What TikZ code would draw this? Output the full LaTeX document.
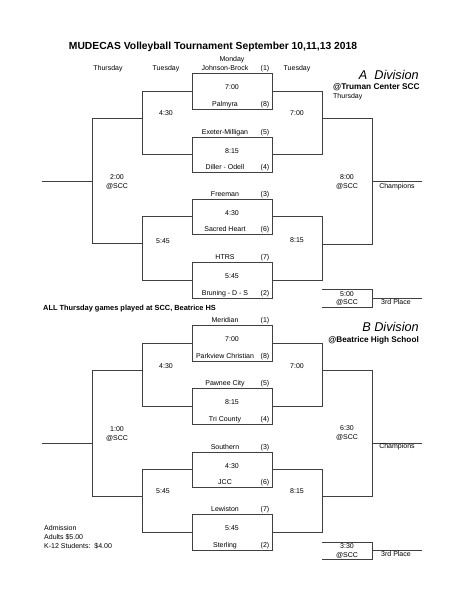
\documentclass[tikz,border=0pt]{standalone}
\usepackage{fontspec}
\setmainfont{Liberation Sans}
\usetikzlibrary{calc}
\tikzset{
  ln/.style={draw=black!75, line width=0.8pt},
  txt/.style={font=\fontsize{7}{8}\selectfont, inner sep=0pt, text height=5pt, text depth=1.4pt},
  divi/.style={font=\itshape\fontsize{12.7}{14}\selectfont, inner sep=0pt, anchor=east},
}
\newcommand\gamebox[8]{%
  \coordinate (#8tl) at (192,#1);
  \coordinate (#8tr) at (272,#1);
  \coordinate (#8bl) at (192,#2);
  \coordinate (#8br) at (272,#2);
  \coordinate (#8l) at (192,{(#1+#2)/2});
  \coordinate (#8r) at (272,{(#1+#2)/2});
  \draw[ln] (#8tl) -- (#8tr) -- (#8br) -- (#8bl) -- cycle;
  \node[txt] (#8a) at (225,{#1-4}) {#3};
  \node[txt] (#8as) at (265,{#1-4}) {#4};
  \node[txt] (#8b) at (225,{#2-4}) {#5};
  \node[txt] (#8bs) at (265,{#2-4}) {#6};
  \node[txt] (#8t) at (232,{(#1+#2)/2-3}) {#7};
}
\begin{document}
\begin{tikzpicture}[x=1pt,y=-1pt]
\useasboundingbox[fill=white] (0,0) rectangle (464,600);

% header
\node[font=\bfseries\fontsize{10.3}{12}\selectfont, inner sep=0pt] (title) at (213,47) {MUDECAS Volleyball Tournament September 10,11,13 2018};
\node[txt] (mon) at (232,60) {Monday};
\node[txt] (thuL) at (108,69) {Thursday};
\node[txt] (tueL) at (166,69) {Tuesday};
\node[txt] (tueR) at (297,69) {Tuesday};

% ---------- A Division ----------
\node[divi] (adiv) at (419,75) {A\hspace{3.5pt} Division};
\node[font=\bfseries\fontsize{8.3}{9}\selectfont, inner sep=0pt, anchor=west] (atru) at (333,87) {@Truman Center SCC};
\node[txt, anchor=west] (athu) at (333,97) {Thursday};

\gamebox{73}{109}{Johnson-Brock}{(1)}{Palmyra}{(8)}{7:00}{A1}
\gamebox{137}{172}{Exeter-Milligan}{(5)}{Diller - Odell}{(4)}{8:15}{A2}
\gamebox{199}{234}{Freeman}{(3)}{Sacred Heart}{(6)}{4:30}{A3}
\gamebox{262}{298}{HTRS}{(7)}{Bruning - D - S}{(2)}{5:45}{A4}

% second round left
\draw[ln] (A1l) -- ++(-50,0) |- (A2l);
\draw[ln] (A3l) -- ++(-50,0) |- (A4l);
\node[txt] (aL1t) at (166,114) {4:30};
\node[txt] (aL2t) at (163,242) {5:45};
% third round left
\coordinate (aLj1) at (142,118);
\coordinate (aLj2) at (142,243);
\coordinate (aLs) at (42,181);
\draw[ln] (aLj1) -- ++(-50,0) |- (aLj2);
\draw[ln] (aLs) -- ++(50,0);
\node[txt] (aLft) at (117,178) {2:00};
\node[txt] (aLfp) at (117,187) {@SCC};

% second round right
\draw[ln] (A1r) -- ++(50,0) |- (A2r);
\draw[ln] (A3r) -- ++(50,0) |- (A4r);
\node[txt] (aR1t) at (297,114) {7:00};
\node[txt] (aR2t) at (297,241) {8:15};
% third round right
\coordinate (aRj1) at (322,118);
\coordinate (aRj2) at (322,244);
\coordinate (aRs) at (422,181);
\draw[ln] (aRj1) -- ++(50,0) |- (aRj2);
\draw[ln] (aRs) -- ++(-50,0);
\node[txt] (aRft) at (347,178) {8:00};
\node[txt] (aRfp) at (347,187) {@SCC};
\node[txt] (achamp) at (397,187) {Champions};

% third place A
\coordinate (a3a) at (322,289);
\coordinate (a3b) at (322,307);
\coordinate (a3l) at (422,298);
\draw[ln] (a3a) -- ++(50,0) |- (a3b);
\draw[ln] (a3l) -- ++(-50,0);
\node[txt] (a3t) at (347,294.5) {5:00};
\node[txt] (a3p) at (347,303) {@SCC};
\node[txt] (a3n) at (396,303) {3rd Place};

\node[font=\bfseries\fontsize{7.4}{8}\selectfont, inner sep=0pt, anchor=west] (allthu) at (43,309) {ALL Thursday games played at SCC, Beatrice HS};

% ---------- B Division ----------
\node[divi] (bdiv) at (419,327) {B Division};
\node[font=\bfseries\fontsize{8.2}{9}\selectfont, inner sep=0pt, anchor=east] (bbea) at (419,340) {@Beatrice High School};

\gamebox{325}{361}{Meridian}{(1)}{Parkview Christian}{(8)}{7:00}{B1}
\gamebox{388}{424}{Pawnee City}{(5)}{Tri County}{(4)}{8:15}{B2}
\gamebox{452}{487}{Southern}{(3)}{JCC}{(6)}{4:30}{B3}
\gamebox{514}{550}{Lewiston}{(7)}{Sterling}{(2)}{5:45}{B4}

\draw[ln] (B1l) -- ++(-50,0) |- (B2l);
\draw[ln] (B3l) -- ++(-50,0) |- (B4l);
\node[txt] (bL1t) at (166,367) {4:30};
\node[txt] (bL2t) at (163,492) {5:45};
\coordinate (bLj1) at (142,370);
\coordinate (bLj2) at (142,496);
\coordinate (bLs) at (42,443);
\draw[ln] (bLj1) -- ++(-50,0) |- (bLj2);
\draw[ln] (bLs) -- ++(50,0);
\node[txt] (bLft) at (117,430) {1:00};
\node[txt] (bLfp) at (117,439) {@SCC};

\draw[ln] (B1r) -- ++(50,0) |- (B2r);
\draw[ln] (B3r) -- ++(50,0) |- (B4r);
\node[txt] (bR1t) at (297,367) {7:00};
\node[txt] (bR2t) at (297,492) {8:15};
\coordinate (bRj1) at (322,370);
\coordinate (bRj2) at (322,496);
\coordinate (bRs) at (422,443);
\draw[ln] (bRj1) -- ++(50,0) |- (bRj2);
\draw[ln] (bRs) -- ++(-50,0);
\node[txt] (bRft) at (347,429) {6:30};
\node[txt] (bRfp) at (347,438) {@SCC};
\node[txt] (bchamp) at (397,447) {Champions};

\coordinate (b3a) at (322,542);
\coordinate (b3b) at (322,559);
\coordinate (b3l) at (422,550);
\draw[ln] (b3a) -- ++(50,0) |- (b3b);
\draw[ln] (b3l) -- ++(-50,0);
\node[txt] (b3t) at (347,546.5) {3:30};
\node[txt] (b3p) at (347,555.5) {@SCC};
\node[txt] (b3n) at (396,555) {3rd Place};

% admission
\node[txt, anchor=west] (adm1) at (44,529) {Admission};
\node[txt, anchor=west] (adm2) at (44,538) {Adults \$5.00};
\node[txt, anchor=west] (adm3) at (44,547) {K-12 Students:\ \ \$4.00};
\end{tikzpicture}
\end{document}
